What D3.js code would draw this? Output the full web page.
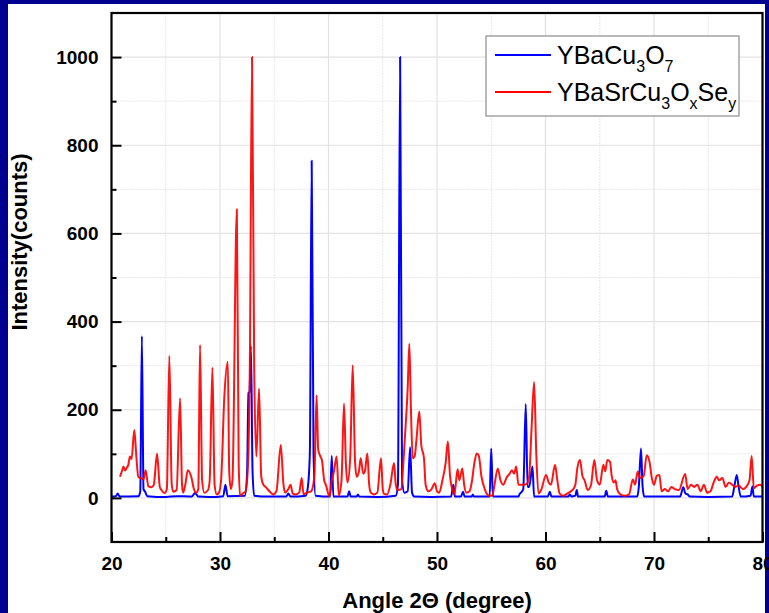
<!DOCTYPE html>
<html>
<head>
<meta charset="utf-8">
<script src="https://cdn.jsdelivr.net/npm/d3@7"></script>
<style>
  html, body { margin: 0; padding: 0; background: #000090; }
  svg { display: block; }
</style>
</head>
<body>
<div id="chart"></div>
<script>
// YBaCu3O7 pattern (angle, counts)
var blueAngle = [20.0,20.4,20.57,20.75,22.5,22.65,22.8,22.95,23.1,23.3,25.0,26.0,27.4,27.7,28.0,29.0,30.3,30.5,30.7,32.3,32.5,32.62,32.72,32.85,33.0,33.15,34.5,36.1,36.3,36.5,37.9,38.1,38.28,38.45,38.62,38.8,40.15,40.3,40.45,41.75,41.9,42.05,42.6,42.7,42.85,44.5,46.2,46.4,46.6,46.78,47.0,47.3,47.52,47.7,47.9,49.5,51.3,51.5,51.65,52.2,52.4,52.55,53.2,53.3,53.4,54.85,55.0,55.15,57.5,57.6,57.95,58.18,58.35,58.5,58.8,58.95,60.2,60.4,60.55,62.1,62.25,62.4,62.75,62.88,63.0,65.45,65.6,65.75,68.45,68.6,68.8,68.95,69.1,72.4,72.7,72.9,73.1,73.3,75.0,77.2,77.4,77.63,77.8,78.0,78.9,79.07,79.2,80.0];
var blueCounts = [3,4,10,3,4,15,367,20,14,4,2,4,3,11,3,2,4,30,4,5,60,238,240,345,60,5,3,3,10,3,5,25,100,765,100,5,3,95,3,3,15,3,3,8,3,2,5,30,1000,40,12,15,115,12,3,2,3,30,3,3,14,3,3,8,3,3,112,3,3,8,20,213,25,25,71,3,3,14,3,3,8,3,5,18,3,3,16,3,3,25,112,25,3,3,24,10,8,3,2,3,25,52,25,3,5,26,3,3];

// YBaSrCu3OxSey pattern (angle, counts)
var redAngle = [20.78,20.95,21.1,21.25,21.4,21.55,21.7,21.85,22.1,22.3,22.47,22.7,22.95,23.15,23.4,23.7,23.9,24.2,24.45,24.6,24.9,25.1,25.33,25.55,25.7,26.0,26.32,26.5,26.6,26.8,27.03,27.35,27.6,27.8,28.0,28.16,28.35,28.55,28.9,29.05,29.3,29.5,29.7,29.9,30.1,30.4,30.72,30.85,31.0,31.15,31.55,31.72,31.85,32.1,32.35,32.55,32.75,32.95,33.15,33.35,33.6,33.8,34.0,34.2,34.6,34.9,35.2,35.6,35.85,36.0,36.3,36.5,36.7,37.0,37.3,37.53,37.7,38.0,38.4,38.7,38.9,39.05,39.2,39.4,39.6,39.75,40.1,40.3,40.5,40.75,40.95,41.2,41.43,41.6,41.75,42.0,42.23,42.45,42.6,42.8,42.97,43.2,43.35,43.58,43.75,43.9,44.2,44.5,44.84,45.0,45.1,45.4,45.7,46.04,46.2,46.4,46.7,46.9,47.1,47.3,47.45,47.6,47.76,47.95,48.1,48.37,48.55,48.8,48.95,49.2,49.5,49.8,50.0,50.2,50.5,50.8,51.0,51.2,51.4,51.6,51.9,52.05,52.33,52.5,52.7,53.0,53.2,53.45,53.66,53.85,54.1,54.4,54.8,55.1,55.3,55.6,55.85,56.1,56.43,56.7,56.9,57.1,57.3,57.5,57.8,58.1,58.35,58.5,58.7,58.95,59.15,59.35,59.6,60.05,60.3,60.5,60.88,61.1,61.3,61.6,62.0,62.5,62.75,62.93,63.18,63.4,63.6,63.9,64.2,64.5,64.75,65.0,65.33,65.5,65.7,65.95,66.1,66.3,66.45,66.6,66.9,67.3,67.7,68.05,68.25,68.5,68.7,69.05,69.33,69.6,69.8,70.0,70.25,70.5,70.7,71.0,71.3,71.6,71.9,72.3,72.87,73.1,73.4,73.7,74.0,74.3,74.6,74.9,75.2,75.5,75.78,76.0,76.3,76.6,76.9,77.2,77.5,77.8,78.2,78.5,78.8,79.0,79.2,79.5,79.8,80.0];
var redCounts = [48,60,71,62,68,75,94,88,154,90,48,45,42,63,26,24,30,100,25,18,11,20,322,30,14,18,226,30,12,30,63,48,20,12,20,347,40,12,18,40,296,30,8,12,40,230,309,60,20,40,655,80,5,10,15,60,300,1000,300,94,248,48,30,25,14,8,15,120,30,12,20,30,10,8,12,45,8,12,15,50,233,110,97,85,40,30,3,40,60,94,5,40,214,80,35,90,301,80,48,60,90,55,60,101,30,12,8,12,90,20,10,8,30,79,30,18,20,80,160,250,350,200,90,95,130,196,120,90,30,15,20,33,15,12,40,80,128,50,20,8,65,40,67,30,12,15,35,80,101,96,48,20,5,5,30,67,40,30,47,55,63,55,71,30,30,30,35,50,150,263,100,10,18,52,35,30,75,38,10,5,10,18,30,67,86,50,40,18,30,86,40,30,75,60,86,82,50,35,40,20,8,5,8,42,30,60,45,50,97,80,45,30,50,52,15,20,15,25,20,18,54,20,30,25,30,15,30,12,15,35,48,40,45,25,35,30,25,28,20,25,40,95,22,28,30,25];

var seriesNames = ["YBaCu3O7", "YBaSrCu3OxSey"];
var seriesColors = ["#0000ff", "#ff0000"];
var xMajor = [20, 30, 40, 50, 60, 70, 80];
var xMinor = [25, 35, 45, 55, 65, 75];
var yMajor = [0, 200, 400, 600, 800, 1000];
var yMinor = [-100, 100, 300, 500, 700, 900, 1100];

function init() {
  var width = 769, height = 613;

  var x = d3.scaleLinear().domain([20, 80]).range([111.5, 762.5]);
  var y = d3.scaleLinear().domain([-100, 1100]).range([542, 13]);

  var svg = d3.select("#chart").append("svg")
    .attr("width", width)
    .attr("height", height);

  svg.append("rect").attr("width", width).attr("height", height).attr("fill", "#000090");
  svg.append("rect")
    .attr("x", 8).attr("y", 4)
    .attr("width", 757).attr("height", height - 4)
    .attr("fill", "#ffffff");

  // grid
  var grid = svg.append("g");
  grid.selectAll(".vmaj").data(xMajor).enter().append("line")
    .attr("x1", function(d) { return x(d); }).attr("x2", function(d) { return x(d); })
    .attr("y1", y(1100)).attr("y2", y(-100))
    .attr("stroke", "#e2e2e2").attr("stroke-width", 1.2);
  grid.selectAll(".vmin").data(xMinor).enter().append("line")
    .attr("x1", function(d) { return x(d); }).attr("x2", function(d) { return x(d); })
    .attr("y1", y(1100)).attr("y2", y(-100))
    .attr("stroke", "#e8e8e8").attr("stroke-width", 1).attr("stroke-dasharray", "2,1");
  grid.selectAll(".hmaj").data(yMajor).enter().append("line")
    .attr("y1", function(d) { return y(d); }).attr("y2", function(d) { return y(d); })
    .attr("x1", x(20)).attr("x2", x(80))
    .attr("stroke", "#e2e2e2").attr("stroke-width", 1.2);
  grid.selectAll(".hmin").data(yMinor).enter().append("line")
    .attr("y1", function(d) { return y(d); }).attr("y2", function(d) { return y(d); })
    .attr("x1", x(20)).attr("x2", x(80))
    .attr("stroke", "#e8e8e8").attr("stroke-width", 1).attr("stroke-dasharray", "2,1");

  // curves
  var line = d3.line()
    .x(function(d) { return x(d[0]); })
    .y(function(d) { return y(d[1]); })
    .curve(d3.curveMonotoneX);

  var blue = d3.zip(blueAngle, blueCounts);
  var red = d3.zip(redAngle, redCounts);

  svg.append("path").datum(blue)
    .attr("d", line).attr("fill", "none")
    .attr("stroke", seriesColors[0]).attr("stroke-width", 2)
    .attr("stroke-linejoin", "round");
  svg.append("path").datum(red)
    .attr("d", line).attr("fill", "none")
    .attr("stroke", seriesColors[1]).attr("stroke-width", 2)
    .attr("stroke-linejoin", "round").attr("opacity", 0.92);

  // axes
  var tickFont = "bold 19px 'Liberation Sans', Arial, sans-serif";

  svg.append("g").attr("transform", "translate(0," + y(-100) + ")")
    .call(d3.axisBottom(x).tickValues(xMajor).tickSize(-10).tickPadding(15).tickFormat(d3.format("d")));
  svg.append("g").attr("transform", "translate(0," + y(-100) + ")")
    .call(d3.axisBottom(x).tickValues(xMinor).tickSize(-5).tickFormat(""));

  svg.append("g").attr("transform", "translate(" + x(20) + ",0)")
    .call(d3.axisLeft(y).tickValues(yMajor).tickSize(-10).tickPadding(13).tickFormat(d3.format("d")));
  svg.append("g").attr("transform", "translate(" + x(20) + ",0)")
    .call(d3.axisLeft(y).tickValues(yMinor.slice(1, -1)).tickSize(-5).tickFormat(""));

  svg.selectAll(".domain").remove();
  svg.selectAll(".tick line").attr("stroke", "#000").attr("stroke-width", 2);
  svg.selectAll(".tick text").style("font", tickFont).attr("fill", "#000");

  // frame
  svg.append("rect")
    .attr("x", x(20)).attr("y", y(1100))
    .attr("width", x(80) - x(20)).attr("height", y(-100) - y(1100))
    .attr("fill", "none").attr("stroke", "#000").attr("stroke-width", 2.2);

  // titles
  svg.append("text")
    .attr("x", (x(20) + x(80)) / 2).attr("y", 608)
    .attr("text-anchor", "middle")
    .style("font", "bold 22px 'Liberation Sans', Arial, sans-serif")
    .text("Angle 2\u0398 (degree)");

  svg.append("text")
    .attr("transform", "translate(27,242) rotate(-90)")
    .attr("text-anchor", "middle")
    .style("font", "bold 22px 'Liberation Sans', Arial, sans-serif")
    .text("Intensity(counts)");

  // legend
  var lg = svg.append("g");
  lg.append("rect")
    .attr("x", 486).attr("y", 36).attr("width", 253).attr("height", 80)
    .attr("fill", "#fff").attr("stroke", "#8c8c8c").attr("stroke-width", 1.2);

  var parts = [
    [["YBaCu", 0], ["3", 1], ["O", 0], ["7", 1]],
    [["YBaSrCu", 0], ["3", 1], ["O", 0], ["x", 1], ["Se", 0], ["y", 1]]
  ];
  var rowY = [55, 92];
  parts.forEach(function(p, i) {
    lg.append("line")
      .attr("x1", 495).attr("x2", 551)
      .attr("y1", rowY[i]).attr("y2", rowY[i])
      .attr("stroke", seriesColors[i]).attr("stroke-width", 2);
    var t = lg.append("text")
      .attr("x", 557).attr("y", rowY[i] + 9)
      .style("font", "25px 'Liberation Sans', Arial, sans-serif")
      .attr("fill", "#000");
    var prevSub = 0;
    p.forEach(function(s) {
      var dy = s[1] === prevSub ? 0 : (s[1] ? 8 : -8);
      t.append("tspan")
        .attr("dy", dy)
        .style("font-size", s[1] ? "16px" : "25px")
        .text(s[0]);
      prevSub = s[1];
    });
  });
}

window.onload = init;
</script>
</body>
</html>
